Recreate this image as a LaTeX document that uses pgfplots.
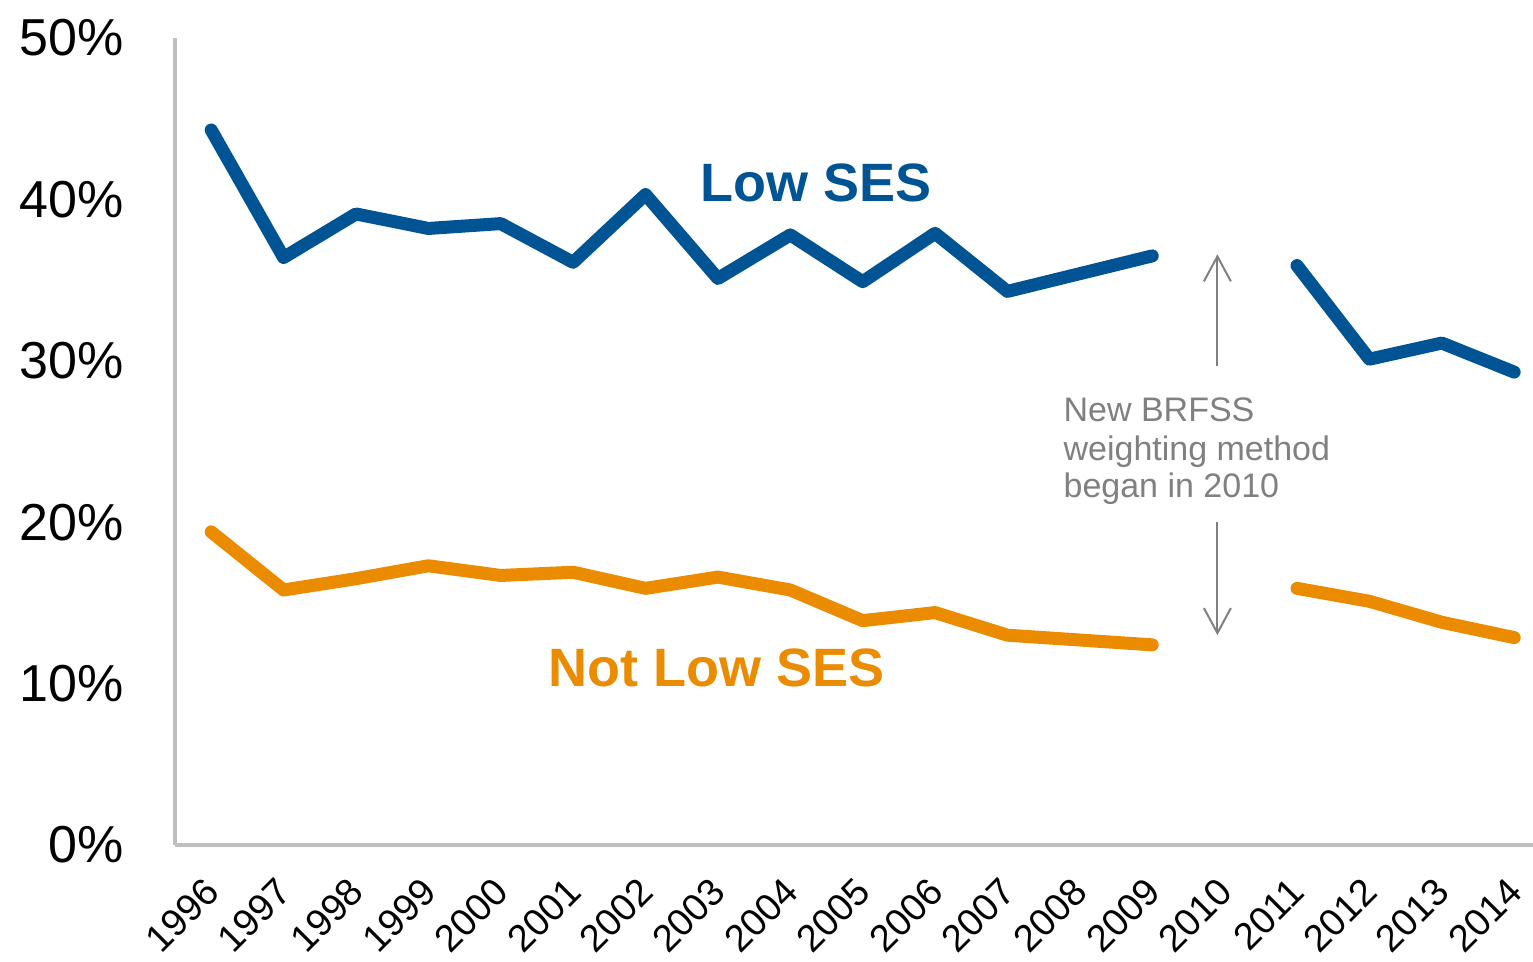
\documentclass[border=0pt]{standalone}
\usepackage{fontspec}
\setmainfont{Liberation Sans}
\usepackage{pgfplots}
\pgfplotsset{compat=1.18}
\usetikzlibrary{arrows.meta}
\definecolor{sesblue}{RGB}{0,84,147}
\definecolor{sesorange}{RGB}{234,139,0}
\definecolor{axisgray}{RGB}{191,191,191}
\definecolor{notegray}{RGB}{128,128,128}
\begin{document}
\begin{tikzpicture}
\useasboundingbox (-87.5bp,-58.5bp) rectangle (679bp,422.5bp);
\begin{axis}[
  at={(0,0)}, anchor=south west,
  scale only axis, width=679bp, height=403.5bp,
  xmin=1995.5, xmax=2014.26, ymin=0, ymax=50,
  axis x line=bottom, axis y line=left,
  axis line style={draw=axisgray, line width=2bp, -},
  xtick={1996,...,2014}, ytick={0,10,...,50},
  major tick length=0pt,
  /pgf/number format/assume math mode=true,
  /pgf/number format/1000 sep={},
  yticklabel={\pgfmathprintnumber{\tick}\%},
  yticklabel style={font=\fontsize{26bp}{30bp}\selectfont, anchor=east, inner sep=0pt, xshift=-25.5bp},
  xticklabel style={font=\fontsize{19bp}{23bp}\selectfont, inner sep=0pt, xshift=0.5bp, yshift=-20bp, rotate=45, anchor=east},
  clip=false,
  unbounded coords=jump,
]
\addplot[sesblue, line width=6.5bp, line join=round, line cap=round] coordinates {
  (1996,44.3) (1997,36.4) (1998,39.1) (1999,38.2) (2000,38.5) (2001,36.1)
  (2002,40.3) (2003,35.1) (2004,37.8) (2005,34.9) (2006,37.9) (2007,34.3)
  (2008,35.4) (2009,36.5) (2010,nan) (2011,35.9) (2012,30.1) (2013,31.1) (2014,29.3)
};
\addplot[sesorange, line width=6.5bp, line join=round, line cap=round] coordinates {
  (1996,19.4) (1997,15.8) (1998,16.5) (1999,17.3) (2000,16.7) (2001,16.9)
  (2002,15.9) (2003,16.6) (2004,15.8) (2005,13.9) (2006,14.4) (2007,13.0)
  (2008,12.7) (2009,12.4) (2010,nan) (2011,15.9) (2012,15.1) (2013,13.8) (2014,12.85)
};
\node[font=\bfseries\fontsize{27bp}{32bp}\selectfont, text=sesblue, inner sep=0pt] at (axis cs:2004.36,41.0) {Low SES};
\node[font=\bfseries\fontsize{27bp}{32bp}\selectfont, text=sesorange, inner sep=0pt] at (axis cs:2002.98,10.97) {Not Low SES};
\node[font=\fontsize{17bp}{20bp}\selectfont, text=notegray, inner sep=0pt, anchor=base west] at (axis cs:2007.77,26.23) {New BRFSS};
\node[font=\fontsize{17bp}{20bp}\selectfont, text=notegray, inner sep=0pt, anchor=base west] at (axis cs:2007.77,23.85) {weighting method};
\node[font=\fontsize{17bp}{20bp}\selectfont, text=notegray, inner sep=0pt, anchor=base west] at (axis cs:2007.77,21.5) {began in 2010};
\draw[notegray, line width=1bp, -{Straight Barb[length=12.5bp,width=13.5bp]}] (axis cs:2009.9,29.7) -- (axis cs:2009.9,36.6);
\draw[notegray, line width=1bp, -{Straight Barb[length=12.5bp,width=13.5bp]}] (axis cs:2009.9,20.0) -- (axis cs:2009.9,13.0);
\end{axis}
\end{tikzpicture}
\end{document}
